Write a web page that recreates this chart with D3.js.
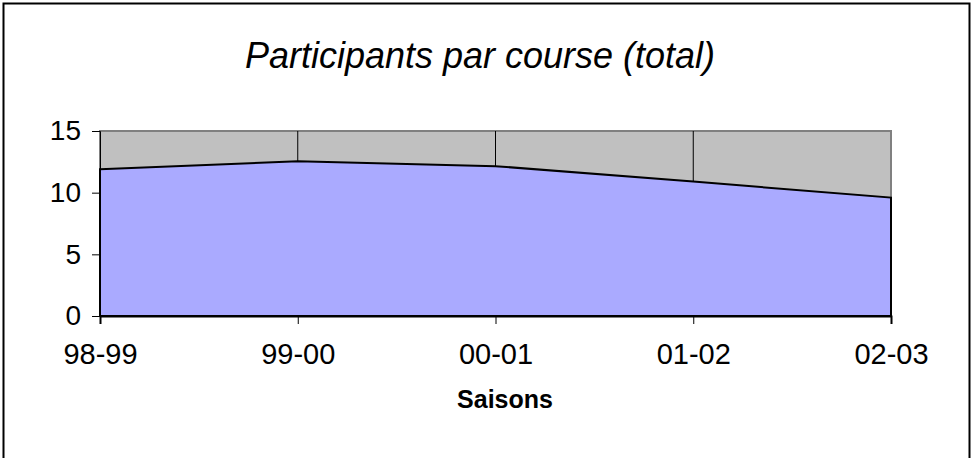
<!DOCTYPE html>
<html>
<head>
<meta charset="utf-8">
<script src="https://cdn.jsdelivr.net/npm/d3@7"></script>
<style>
  body { margin: 0; background: #fff; }
  text { font-family: "Liberation Sans", Arial, sans-serif; fill: #000; }
</style>
</head>
<body>
<svg id="chart" width="971" height="458"></svg>
<script>
// Seasons on the x axis and average participants per race
const saisons = ["98-99", "99-00", "00-01", "01-02", "02-03"];
const participants = [11.9, 12.55, 12.15, 10.9, 9.6];
const yTicks = [0, 5, 10, 15];

const svg = d3.select("#chart");

// Outer chart border (runs past bottom edge like the original)
svg.append("rect")
    .attr("x", 3.5).attr("y", 3.5)
    .attr("width", 966).attr("height", 470)
    .attr("fill", "#fff")
    .attr("stroke", "#000")
    .attr("stroke-width", 2);

const plot = {left: 100, right: 891, top: 131, bottom: 316};

const x = d3.scalePoint()
    .domain(saisons)
    .range([plot.left, plot.right]);

const y = d3.scaleLinear()
    .domain([0, 15])
    .range([plot.bottom, plot.top]);

// Gray plot background
svg.append("rect")
    .attr("x", plot.left).attr("y", plot.top)
    .attr("width", plot.right - plot.left)
    .attr("height", plot.bottom - plot.top)
    .attr("fill", "#c0c0c0")
    .attr("stroke", "#808080")
    .attr("stroke-width", 2);

// Vertical grid lines at each category
svg.append("g")
    .selectAll("line")
    .data(saisons.slice(1, -1))
    .join("line")
    .attr("x1", d => x(d)).attr("x2", d => x(d))
    .attr("y1", plot.top).attr("y2", plot.bottom)
    .attr("stroke", "#000")
    .attr("stroke-width", 1);

// Area + top line
const area = d3.area()
    .x((d, i) => x(saisons[i]))
    .y0(y(0))
    .y1(d => y(d));

svg.append("path")
    .datum(participants)
    .attr("d", area)
    .attr("fill", "#aaaaff")
    .attr("stroke", "#000")
    .attr("stroke-width", 2);

// Y axis
const yAxis = svg.append("g")
    .attr("transform", `translate(${plot.left},0)`)
    .call(d3.axisLeft(y).tickValues(yTicks).tickSize(8).tickPadding(11));
yAxis.select(".domain").attr("stroke", "#000").attr("stroke-width", 1);
yAxis.selectAll(".tick line").attr("stroke", "#000");
yAxis.selectAll("text").style("font-size", "28px").attr("fill", "#000");

// X axis
const xAxis = svg.append("g")
    .attr("transform", `translate(0,${plot.bottom})`)
    .call(d3.axisBottom(x).tickSize(8).tickPadding(19));
xAxis.select(".domain").attr("stroke", "#000").attr("stroke-width", 2);
xAxis.selectAll(".tick line").attr("stroke", "#000");
xAxis.selectAll("text").style("font-size", "29px").attr("fill", "#000");

// Titles
svg.append("text")
    .attr("x", 480).attr("y", 68)
    .attr("text-anchor", "middle")
    .style("font-size", "36px")
    .style("font-style", "italic")
    .text("Participants par course (total)");

svg.append("text")
    .attr("x", 505).attr("y", 408)
    .attr("text-anchor", "middle")
    .style("font-size", "25px")
    .style("font-weight", "bold")
    .text("Saisons");
</script>
</body>
</html>
